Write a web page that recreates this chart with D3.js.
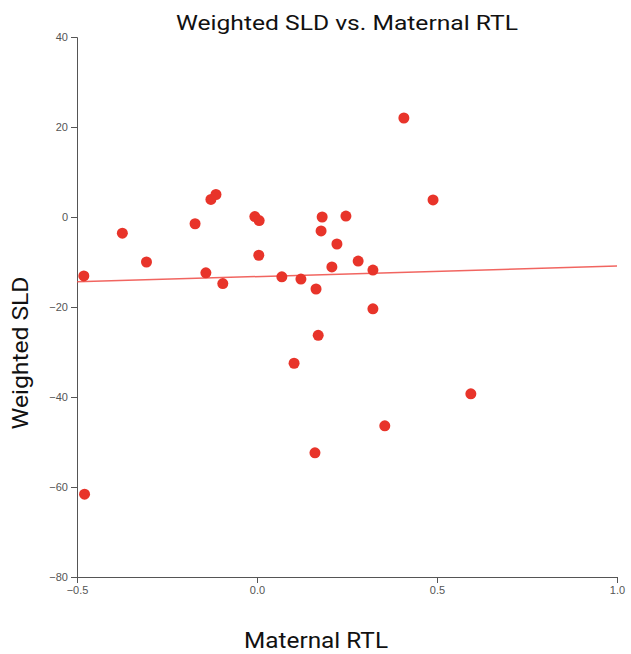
<!DOCTYPE html>
<html>
<head>
<meta charset="utf-8">
<script src="https://cdn.jsdelivr.net/npm/d3@7"></script>
<style>
  body { margin: 0; background: #fff; }
  .tick text { font-family: "Liberation Sans", Arial, sans-serif; font-size: 11px; fill: #555; }
  .domain, .tick line { stroke: #555; }
</style>
</head>
<body>
<div id="chart"></div>
<script>
// Maternal RTL (x) and Weighted SLD (y)
const rtl = [-0.481, -0.479, -0.374, -0.307, -0.172, -0.142, -0.128, -0.114, -0.095, -0.006,
             0.006, 0.005, 0.069, 0.103, 0.122, 0.164, 0.161, 0.170, 0.181, 0.178,
             0.208, 0.222, 0.247, 0.281, 0.322, 0.322, 0.408, 0.489, 0.594, 0.355];
const sld = [-13.1, -61.6, -3.6, -10.0, -1.5, -12.4, 3.9, 5.0, -14.8, 0.1,
             -0.8, -8.5, -13.3, -32.5, -13.8, -16.0, -52.4, -26.3, 0.0, -3.1,
             -11.1, -6.0, 0.2, -9.8, -11.8, -20.4, 22.0, 3.8, -39.3, -46.4];

// trend line ends
const trendX = [-0.5, 1.0];
const trendY = [-14.4, -10.9];

const xTicks = [-0.5, 0.0, 0.5, 1.0];
const yTicks = [40, 20, 0, -20, -40, -60, -80];

const margin = { top: 37, right: 14, bottom: 77, left: 77 },
    width = 631 - margin.left - margin.right,
    height = 654 - margin.top - margin.bottom;

const root = d3.select("#chart")
    .append("svg")
    .attr("width", 631)
    .attr("height", 654);

const svg = root.append("g")
    .attr("transform", `translate(${margin.left},${margin.top})`);

const xScale = d3.scaleLinear().domain([-0.5, 1.0]).range([0, width]);
const yScale = d3.scaleLinear().domain([-80, 40]).range([height, 0]);

// axes
svg.append("g")
    .attr("transform", `translate(0, ${height})`)
    .call(d3.axisBottom(xScale).tickValues(xTicks).tickFormat(d3.format(".1f")));

svg.append("g")
    .call(d3.axisLeft(yScale).tickValues(yTicks));

// trend line
const points = rtl.map((x, i) => ({ x: x, y: sld[i] }));

svg.append("line")
    .attr("x1", xScale(trendX[0]))
    .attr("y1", yScale(trendY[0]))
    .attr("x2", xScale(trendX[1]))
    .attr("y2", yScale(trendY[1]))
    .attr("stroke", "#ee4a44")
    .attr("stroke-opacity", 0.85)
    .attr("stroke-width", 1.5);

// dots
svg.selectAll("circle")
    .data(points)
    .join("circle")
    .attr("cx", d => xScale(d.x))
    .attr("cy", d => yScale(d.y))
    .attr("r", 5.5)
    .attr("fill", "#e8342a");

// title and axis labels (the original font is wider, so stretch to its width)
root.append("text")
    .attr("x", 347)
    .attr("y", 30)
    .attr("text-anchor", "middle")
    .attr("textLength", 342)
    .attr("lengthAdjust", "spacingAndGlyphs")
    .style("font-family", "Roboto, sans-serif")
    .style("font-size", "21px")
    .attr("fill", "#111")
    .text("Weighted SLD vs. Maternal RTL");

root.append("text")
    .attr("x", 316)
    .attr("y", 648)
    .attr("text-anchor", "middle")
    .attr("textLength", 144)
    .attr("lengthAdjust", "spacingAndGlyphs")
    .style("font-family", "Roboto, sans-serif")
    .style("font-size", "22px")
    .attr("fill", "#111")
    .text("Maternal RTL");

root.append("text")
    .attr("transform", "translate(28, 353) rotate(-90)")
    .attr("text-anchor", "middle")
    .attr("textLength", 153)
    .attr("lengthAdjust", "spacingAndGlyphs")
    .style("font-family", "Roboto, sans-serif")
    .style("font-size", "22px")
    .attr("fill", "#111")
    .text("Weighted SLD");
</script>
</body>
</html>
